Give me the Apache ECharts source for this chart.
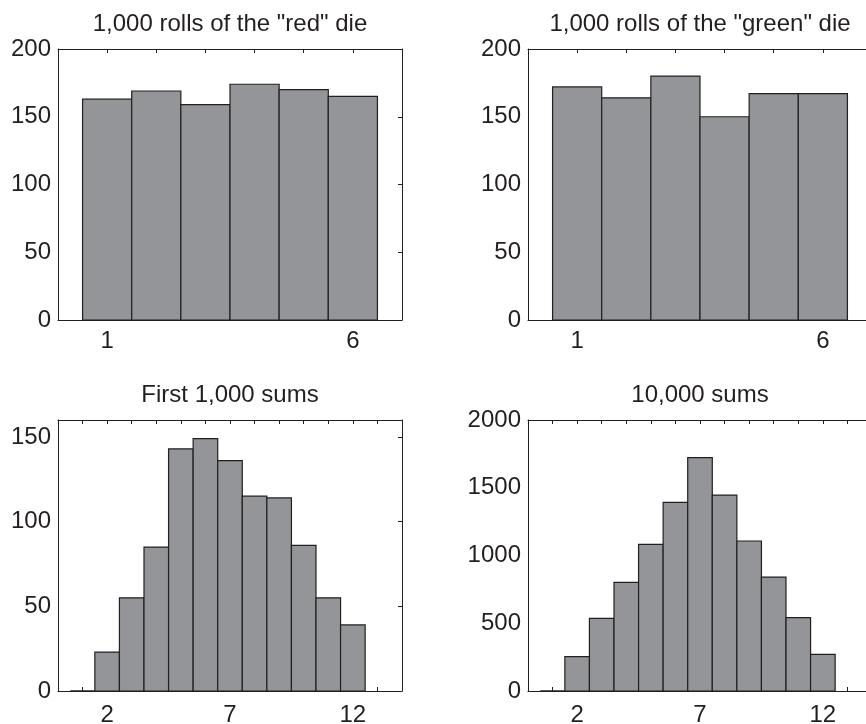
<!DOCTYPE html>
<html>
<head>
<meta charset="utf-8">
<script src="https://cdn.jsdelivr.net/npm/echarts@6/dist/echarts.min.js"></script>
<style>
html,body{margin:0;padding:0;background:#fff;}
#chart{width:866px;height:724px;}
</style>
</head>
<body>
<div id="chart"></div>
<script>
// ---- data ----
const dieFaces = [1, 2, 3, 4, 5, 6];
const redCounts = [163, 169, 159, 174, 170, 165];
const greenCounts = [172, 164, 180, 150, 167, 167];
const sumValues = [1, 2, 3, 4, 5, 6, 7, 8, 9, 10, 11, 12];
const first1000Counts = [0, 23, 55, 85, 143, 149, 136, 115, 114, 86, 55, 39];
const tenKCounts = [0, 253, 536, 802, 1082, 1392, 1722, 1446, 1107, 841, 541, 271];

const titles = ['1,000 rolls of the "red" die', '1,000 rolls of the "green" die', 'First 1,000 sums', '10,000 sums'];
const dieXLabels = [1, 6];
const sumXLabels = [2, 7, 12];
const dieYTicks = [0, 50, 100, 150, 200];
const first1000YTicks = [0, 50, 100, 150];
const tenKYTicks = [0, 500, 1000, 1500, 2000];

// ---- style ----
const ink = '#231f20';
const barFill = '#939598';
const font = '"Liberation Sans", Arial, Helvetica, sans-serif';

const panels = [
  {grid: {left: 58, top: 49, width: 344, height: 271}, xMax: 7, yMax: 200, yInt: 50, xLabels: dieXLabels, yTicks: dieYTicks, cats: dieFaces, vals: redCounts, xMargin: 9},
  {grid: {left: 528, top: 49, width: 344, height: 271}, xMax: 7, yMax: 200, yInt: 50, xLabels: dieXLabels, yTicks: dieYTicks, cats: dieFaces, vals: greenCounts, xMargin: 9},
  {grid: {left: 58, top: 420, width: 344, height: 271}, xMax: 14, yMax: 160, yInt: 50, xLabels: sumXLabels, yTicks: first1000YTicks, cats: sumValues, vals: first1000Counts, xMargin: 12},
  {grid: {left: 528, top: 420, width: 344, height: 271}, xMax: 14, yMax: 2000, yInt: 500, xLabels: sumXLabels, yTicks: tenKYTicks, cats: sumValues, vals: tenKCounts, xMargin: 12}
];
const titleY = [24, 24, 395, 395];

const grids = [], xAxes = [], yAxes = [], series = [], graphics = [];
panels.forEach((p, i) => {
  grids.push(Object.assign({containLabel: false, outerBoundsMode: 'none'}, p.grid));
  const lineStyle = {color: ink, width: 1};
  xAxes.push({
    gridIndex: i, type: 'value', position: 'bottom', min: 0, max: p.xMax, interval: 1,
    axisLine: {show: true, onZero: false, lineStyle},
    axisTick: {show: true, inside: true, length: 4, lineStyle},
    splitLine: {show: false},
    axisLabel: {
      show: true, margin: p.xMargin, color: ink, fontSize: 24, fontFamily: font,
      formatter: v => (p.xLabels.indexOf(v) >= 0 ? String(v) : '')
    }
  });
  xAxes.push({
    gridIndex: i, type: 'value', position: 'top', min: 0, max: p.xMax, interval: 1,
    axisLine: {show: true, onZero: false, lineStyle},
    axisTick: {show: true, inside: true, length: 4, lineStyle},
    splitLine: {show: false}, axisLabel: {show: false}
  });
  yAxes.push({
    gridIndex: i, type: 'value', position: 'left', min: 0, max: p.yMax, interval: p.yInt,
    axisLine: {show: true, onZero: false, lineStyle},
    axisTick: {show: false},
    splitLine: {show: false},
    axisLabel: {
      show: true, margin: 7, color: ink, fontSize: 24, fontFamily: font,
      formatter: v => (p.yTicks.indexOf(v) >= 0 ? String(v) : '')
    }
  });
  yAxes.push({
    gridIndex: i, type: 'value', position: 'right', min: 0, max: p.yMax, interval: p.yInt,
    show: (i % 2 === 0),
    axisLine: {show: true, onZero: false, lineStyle},
    axisTick: {show: true, inside: true, length: 4, lineStyle},
    splitLine: {show: false}, axisLabel: {show: false}
  });
  series.push({
    type: 'custom',
    xAxisIndex: i * 2, yAxisIndex: i * 2,
    clip: false,
    encode: {x: 0, y: 1},
    data: p.cats.map((c, k) => [c, p.vals[k]]),
    renderItem: function (params, api) {
      const x = api.value(0), y = api.value(1);
      const a = api.coord([x - 0.5, y]);
      const b = api.coord([x + 0.5, 0]);
      if (y > 0) {
        return {
          type: 'rect',
          shape: {x: a[0], y: a[1], width: b[0] - a[0], height: b[1] - a[1]},
          style: {fill: barFill, stroke: ink, lineWidth: 1.2}
        };
      }
      return {
        type: 'line',
        shape: {x1: a[0], y1: b[1], x2: b[0], y2: b[1]},
        style: {stroke: ink, lineWidth: 1.5}
      };
    }
  });
  graphics.push({
    type: 'text',
    x: p.grid.left + p.grid.width / 2,
    y: titleY[i],
    style: {
      text: titles[i], textAlign: 'center', textVerticalAlign: 'middle',
      fill: ink, fontSize: 24, fontFamily: font
    }
  });
});

const chart = echarts.init(document.getElementById('chart'), null, {renderer: 'canvas'});
chart.setOption({
  animation: false,
  backgroundColor: '#ffffff',
  grid: grids,
  xAxis: xAxes,
  yAxis: yAxes,
  series: series,
  graphic: graphics
});
</script>
</body>
</html>
